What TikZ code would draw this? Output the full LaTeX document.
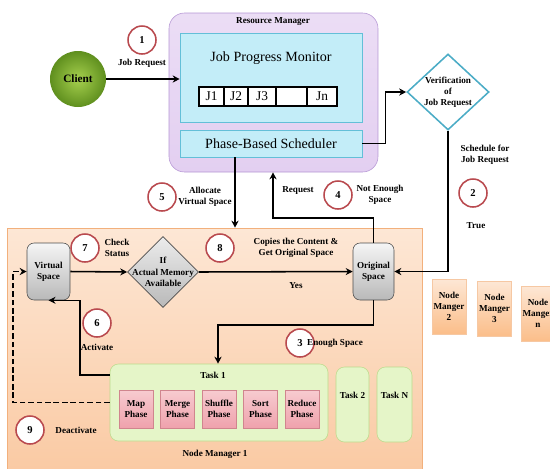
\documentclass[tikz,border=0pt]{standalone}
\usepackage{fontspec}
\setmainfont{Liberation Serif}
\usepackage{tikz}
\usetikzlibrary{shapes.geometric,arrows.meta}
\newcommand\pu{0.025cm}
\definecolor{rmfill}{HTML}{E3CFF1}
\definecolor{rmline}{HTML}{B596D4}
\definecolor{cyfill}{HTML}{C3EDF8}
\definecolor{cyline}{HTML}{63BFD8}
\definecolor{ortop}{HTML}{FDE7D5}
\definecolor{orbot}{HTML}{FAC9A2}
\definecolor{orline}{HTML}{F2B07C}
\definecolor{grfill}{HTML}{E5F5C8}
\definecolor{grline}{HTML}{BCDB8C}
\definecolor{pktop}{HTML}{F7CBD0}
\definecolor{pkbot}{HTML}{EFA2AC}
\definecolor{pkline}{HTML}{D0858E}
\definecolor{numred}{HTML}{B94A4F}
\definecolor{dialine}{HTML}{4BACC6}
\definecolor{clientin}{HTML}{A6D04E}
\definecolor{clientout}{HTML}{5F8F1E}

\begin{document}
\begin{tikzpicture}[x=0.025cm,y=-0.025cm,
    lbl/.style={align=center,font=\fontsize{6.5}{8}\selectfont\bfseries,inner sep=0pt},
    num/.style={circle,draw=numred,line width=1.1pt,fill=white,minimum size=28*\pu,inner sep=0pt,font=\fontsize{7.5}{9}\selectfont\bfseries},
    arr/.style={line width=1.1pt,-{Stealth[length=5pt,width=5pt]}},
    cybox/.style={draw=cyline,fill=cyfill,inner sep=1pt},
    jbox/.style={draw=black,thick,fill=white,minimum height=19*\pu,inner sep=0pt,font=\fontsize{9.5}{10}\selectfont},
    gbox/.style={draw=gray!60!black,top color=gray!8,bottom color=gray!55,rounded corners=5pt,minimum width=43*\pu,minimum height=57*\pu,inner sep=1pt,lbl},
    phase/.style={draw=pkline,top color=pktop,bottom color=pkbot,minimum width=34*\pu,minimum height=38*\pu,inner sep=0pt,lbl},
    task/.style={draw=grline,fill=grfill,rounded corners=6pt,inner sep=1pt},
    nmbox/.style={draw=orline!70,top color=ortop,bottom color=orbot!85!orange,minimum width=34*\pu,minimum height=55*\pu,inner sep=0pt,lbl}]
\useasboundingbox (0,0) rectangle (550,468);

\node[draw=rmline,top color=rmfill!70,bottom color=rmfill,rounded corners=11pt,minimum width=209*\pu,minimum height=159*\pu] (rm) at (273.5,92.5) {};
\node[lbl] at (273,22) {Resource Manager};
\node[cybox,minimum width=182*\pu,minimum height=89*\pu] (jpm) at (271,77.5) {};
\node[font=\fontsize{10}{12}\selectfont] at (271,58) {Job Progress Monitor};
\node[jbox,minimum width=25*\pu] (j1) at (211.5,96.5) {J1};
\node[jbox,minimum width=24*\pu] (j2) at (236,96.5) {J2};
\node[jbox,minimum width=28*\pu] (j3) at (262,96.5) {J3\hspace{4pt}};
\node[jbox,minimum width=31*\pu] (jb) at (291.5,96.5) {};
\node[jbox,minimum width=30*\pu] (jn) at (322,96.5) {Jn};
\node[cybox,minimum width=182*\pu,minimum height=27*\pu,font=\fontsize{10}{12}\selectfont] (pbs) at (271,143.5) {Phase-Based Scheduler};

\node[circle,inner color=clientin,outer color=clientout,minimum size=56*\pu,inner sep=0pt,font=\fontsize{8}{9}\selectfont\bfseries] (cl) at (78,79) {Client};
\node[num] (n1) at (142,40) {1};
\node[lbl] (t1lab) at (142,63) {Job Request};
\draw[arr] (cl) -- (jpm.west |- cl);

\node[diamond,draw=dialine,line width=1.1pt,fill=white,minimum width=82*\pu,minimum height=76*\pu,inner sep=0pt] (ver) at (448,92) {};
\node[lbl] at (ver) {Verification\\of\\Job Request};
\draw[arr] (pbs.east) -- ++(23,0) |- (ver.west);
\node[lbl] at (485,155) {Schedule for\\Job Request};
\node[num] (n2) at (473,193) {2};
\node[lbl] at (476,226) {True};

\node[draw=orline,top color=ortop,bottom color=orbot,minimum width=415*\pu,minimum height=250*\pu,inner sep=0pt] (nm1) at (214.5,353) {};
\node[lbl] at (215,454) {Node Manager 1};

\node[gbox] (vs) at (48.5,271.5) {Virtual\\Space};
\node[gbox,minimum width=41*\pu] (os) at (373.5,271.5) {Original\\Space};
\node[diamond,draw=gray!60!black,top color=gray!15,bottom color=gray!55,minimum width=71*\pu,minimum height=71*\pu,inner sep=0pt] (mem) at (163,272) {};
\node[lbl] at (mem) {If\\Actual Memory\\Available};
\draw[arr] (vs.east) -- (mem.west);
\draw[arr] (mem.east) -- (os.west);
\draw[arr] (ver.south) |- (os.east);
\node[num] (n7) at (85,248) {7};
\node[lbl] at (117,248) {Check\\Status};
\node[num] (n8) at (220,248) {8};
\node[lbl] at (296,248) {Copies the Content \&\\Get Original Space};
\node[lbl] at (296,286) {Yes};

\coordinate (rq) at (273,218);
\draw[arr] (os.north) |- (rq) -- (rq |- rm.south);
\node[lbl] at (298,190) {Request};
\node[num] (n4) at (338,195) {4};
\node[lbl] at (380,195) {Not Enough\\Space};

\coordinate (al) at (235,200);
\draw[arr] (pbs.south -| al) -- (nm1.north -| al);
\node[num] (n5) at (162,197) {5};
\node[lbl] at (205,197) {Allocate\\Virtual Space};

\node[task,minimum width=218*\pu,minimum height=77*\pu] (t1) at (219,402.5) {};
\node[lbl] (t1l) at (213,375) {Task 1};
\foreach \ph [count=\i] in {Map,Merge,Shuffle,Sort,Reduce}
    \node[phase] (ph\i) at ({94.5+41.5*\i},409) {\ph\\Phase};
\node[task,minimum width=33*\pu,minimum height=75*\pu,lbl] (t2) at (352.5,404.5) {Task 2\\[5pt]};
\node[task,minimum width=35*\pu,minimum height=75*\pu,lbl] (tn) at (394.5,404.5) {Task N\\[5pt]};

\coordinate (es) at (218,325);
\draw[arr] (os.south) |- (es) -- (t1.north -| es);
\node[num] (n3) at (300,343) {3};
\node[lbl] at (335,343) {Enough Space};

\coordinate (ac) at (80,375);
\draw[arr] (t1.west |- ac) -- (ac) |- (vs.south);
\node[num] (n6) at (97,323) {6};
\node[lbl] at (97,347) {Activate};

\coordinate (dc) at (13,402.5);
\draw[arr,dash pattern=on 4pt off 2pt] (t1.west) -- (dc) |- (vs.west);
\node[num] (n9) at (30,430) {9};
\node[lbl] at (76,430) {Deactivate};

\node[nmbox] (nm2) at (449,306.5) {Node\\Manger\\2};
\node[nmbox] (nm3) at (494.5,308.5) {Node\\Manger\\3};
\node[nmbox] (nmn) at (538,313.5) {Node\\Manger\\n};
\end{tikzpicture}
\end{document}
